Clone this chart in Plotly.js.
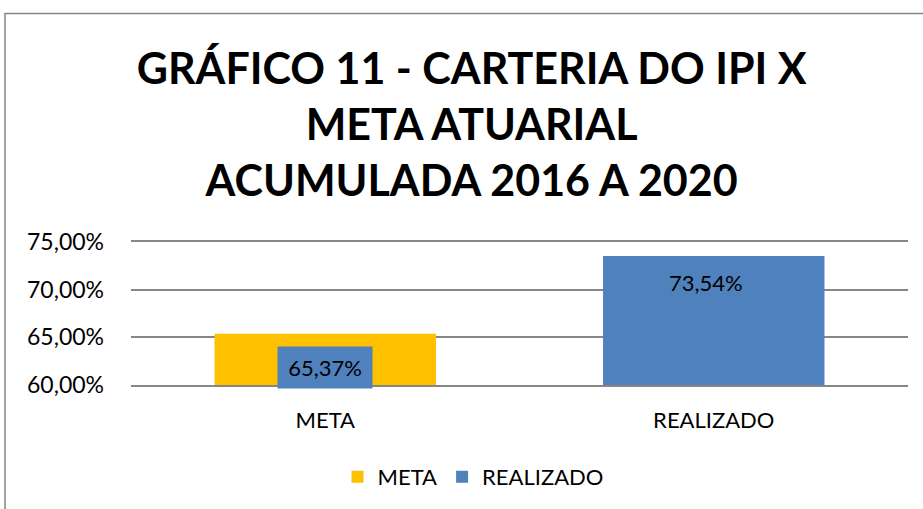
<!DOCTYPE html>
<html>
<head>
<meta charset="utf-8">
<script src="https://cdn.plot.ly/plotly-3.0.1.min.js"></script>
<style>
html,body{margin:0;padding:0;background:#fff;overflow:hidden;}
#chart{width:923px;height:509px;}
</style>
</head>
<body>
<div id="chart"></div>
<script>
const categories = ["META", "REALIZADO"];
const seriesNames = ["META", "REALIZADO"];
const metaValues = [65.37, null];
const realizadoValues = [null, 73.54];
const dataLabels = ["65,37%", "73,54%"];
const yTickVals = [60, 65, 70, 75];
const yTickText = ["60,00%", "65,00%", "70,00%", "75,00%"];
const titleText = "GRÁFICO 11 - CARTERIA DO IPI X<br>META ATUARIAL<br>ACUMULADA 2016 A 2020";

const W = 923, H = 509;
const L = 131, R = 15, T = 242, B = 123;
const pw = W - L - R, ph = H - T - B;
const px2x = p => (p - L) / pw;
const py2y = p => (H - B - p) / ph;

const FONT = "Lato, 'Open Sans', sans-serif";
const gridCol = "#868686";

const traces = [
  {type: "bar", name: seriesNames[0], x: categories, y: metaValues,
   marker: {color: "#FFC000"}, hoverinfo: "skip"},
  {type: "bar", name: seriesNames[1], x: categories, y: realizadoValues,
   marker: {color: "#4F81BD"}, hoverinfo: "skip"}
];

const layout = {
  width: W, height: H,
  margin: {l: L, r: R, t: T, b: B, pad: 0},
  paper_bgcolor: "#fff", plot_bgcolor: "#fff",
  barmode: "overlay",
  bargap: 0.43,
  font: {family: FONT, color: "#000", size: 20},
  title: {
    text: titleText,
    font: {family: FONT, size: 43, color: "#000", weight: "bold"},
    x: 0.511, xref: "container", xanchor: "center",
    y: 1 - 84 / H, yref: "container", yanchor: "middle"
  },
  xaxis: {
    type: "category",
    showgrid: false, zeroline: false,
    showline: true, mirror: true, linecolor: gridCol, linewidth: 2,
    ticks: "", ticklabelstandoff: 15,
    tickfont: {family: FONT, size: 22, color: "#000"},
    fixedrange: true
  },
  yaxis: {
    range: [60, 75],
    tickvals: yTickVals, ticktext: yTickText,
    showgrid: true, gridcolor: gridCol, gridwidth: 2,
    zeroline: false, showline: false,
    ticks: "", ticklabelstandoff: 26,
    tickfont: {family: FONT, size: 23, color: "#000"},
    fixedrange: true
  },
  showlegend: true,
  legend: {
    orientation: "h",
    x: px2x(473), xanchor: "center", xref: "paper",
    y: py2y(477), yanchor: "middle", yref: "paper",
    font: {family: FONT, size: 22, color: "#000"},
    itemwidth: 30, traceorder: "normal"
  },
  annotations: [
    {x: categories[0], y: 61.8, xref: "x", yref: "y",
     text: dataLabels[0], showarrow: false,
     bgcolor: "#4F81BD", width: 90, height: 37, borderpad: 2,
     font: {family: FONT, size: 22, color: "#000"},
     xanchor: "center", yanchor: "middle"},
    {x: categories[1], y: 70.74, xref: "x", yref: "y", xshift: -8,
     text: dataLabels[1], showarrow: false,
     font: {family: FONT, size: 22, color: "#000"},
     xanchor: "center", yanchor: "middle"}
  ],
  shapes: [
    {type: "rect", xref: "paper", yref: "paper",
     x0: px2x(5), x1: px2x(W + 20), y0: py2y(H + 20), y1: py2y(12),
     line: {color: gridCol, width: 1.5}, fillcolor: "rgba(0,0,0,0)", layer: "above"}
  ]
};

Plotly.newPlot("chart", traces, layout, {displayModeBar: false, staticPlot: true});
</script>
</body>
</html>
